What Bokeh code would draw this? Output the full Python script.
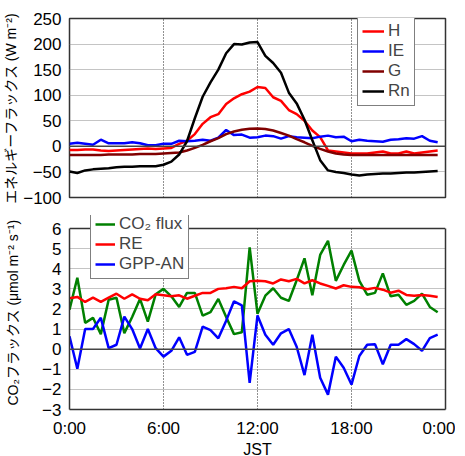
from bokeh.plotting import figure
from bokeh.layouts import column
from bokeh.models import Legend, LegendItem, Span, FixedTicker, LinearAxis, BoxAnnotation
from bokeh.embed import file_html
from bokeh.resources import INLINE

# time of day (hours, JST), half-hourly
hours = [0.0, 0.5, 1.0, 1.5, 2.0, 2.5, 3.0, 3.5, 4.0, 4.5, 5.0, 5.5,
         6.0, 6.5, 7.0, 7.5, 8.0, 8.5, 9.0, 9.5, 10.0, 10.5, 11.0, 11.5,
         12.0, 12.5, 13.0, 13.5, 14.0, 14.5, 15.0, 15.5, 16.0, 16.5, 17.0, 17.5,
         18.0, 18.5, 19.0, 19.5, 20.0, 20.5, 21.0, 21.5, 22.0, 22.5, 23.0, 23.5]

# energy fluxes (W m-2)
H = [-7, -7, -6, -6, -8, -9, -8, -7, -6, -5, -4, -5,
     -4, -3, 5, 11, 24, 44, 57, 63, 83, 94, 102, 107,
     116, 114, 96, 89, 71, 63, 50, 31, 18, -8, -10, -12,
     -14, -14, -14, -12, -10, -14, -14, -10, -14, -12, -10, -8]
IE = [5, 7, 5, 3, 13, 6, 6, 6, 8, 6, 2, 2,
      5, 5, 11, 10, 11, 13, 11, 17, 32, 22, 23, 17,
      18, 21, 20, 15, 20, 18, 17, 16, 19, 21, 18, 19,
      10, 13, 11, 10, 9, 13, 14, 16, 15, 20, 11, 8]
G = [-17, -17, -17, -17, -17, -16, -16, -16, -16, -15, -15, -15,
     -14, -13, -12, -8, -3, 3, 10, 16, 24, 29, 32.5, 34.5,
     35, 34, 31, 26, 21, 14, 8, 1, -5, -10, -14, -16,
     -17, -17, -17, -17, -17, -17, -17, -17, -17, -17, -17, -17]
Rn = [-49, -52, -47, -45, -44, -43, -41, -40, -40, -39, -39, -39,
      -36, -30, -16, 10, 55, 97, 125, 150, 182, 200, 199, 203,
      204, 177, 163, 144, 105, 84, 52, 12, -27, -47, -50, -52,
      -55, -57, -55, -54, -53, -53, -52, -51, -51, -50, -49, -48]

# CO2 fluxes (umol m-2 s-1)
CO2 = [1.96, 3.55, 1.31, 1.56, 0.75, 2.46, 2.56, 0.80, 1.60, 2.50, 1.37, 2.73,
       3.00, 2.63, 2.10, 2.80, 2.80, 1.67, 1.84, 2.50, 1.60, 0.75, 0.84, 5.06,
       1.76, 2.66, 3.03, 2.56, 2.40, 3.43, 4.52, 2.68, 4.69, 5.39, 3.40, 4.19,
       4.90, 3.40, 2.71, 2.80, 3.77, 2.63, 2.71, 2.21, 2.40, 2.76, 2.10, 1.84]
RE = [2.53, 2.60, 2.35, 2.56, 2.35, 2.56, 2.76, 2.51, 2.73, 2.51, 2.43, 2.73,
      2.68, 2.63, 2.68, 2.51, 2.66, 2.80, 2.80, 3.00, 3.03, 3.10, 3.03, 3.38,
      3.40, 3.38, 3.27, 3.47, 3.38, 3.50, 3.27, 3.43, 3.27, 3.15, 3.02, 3.18,
      3.10, 3.08, 2.98, 3.05, 2.96, 2.81, 2.91, 2.70, 2.66, 2.70, 2.66, 2.60]
GPP = [0.64, -0.97, 1.00, 1.00, 1.56, 0.05, 0.22, 1.62, 1.00, 0.03, 1.00, 0.05,
       -0.37, -0.08, 0.59, -0.28, -0.13, 1.12, 0.95, 0.54, 1.42, 2.38, 2.18, -1.68,
       1.68, 0.72, 0.22, 0.79, 1.00, 0.12, -1.29, 0.72, -1.42, -2.26, -0.37, -0.92,
       -1.76, -0.34, 0.22, 0.25, -0.75, 0.22, 0.22, 0.50, 0.25, -0.08, 0.55, 0.72]

x_ticks = [0, 6, 12, 18, 24]
x_tick_labels = ["0:00", "6:00", "12:00", "18:00", "0:00"]
y1_ticks = [-100, -50, 0, 50, 100, 150, 200, 250]
y2_ticks = [-3, -2, -1, 0, 1, 2, 3, 4, 5, 6]

LATIN = "Liberation Sans"
LABEL_FONT = "'Liberation Sans', 'Noto Sans CJK JP'"
FRAME = "#333333"


def style(p, yticks):
    p.background_fill_color = "white"
    p.border_fill_color = "white"
    for ax in p.xaxis + p.yaxis:
        ax.axis_line_color = None
        ax.major_tick_line_color = None
        ax.minor_tick_line_color = None
        ax.major_tick_in = 0
        ax.major_tick_out = 0
        ax.major_label_text_font = LATIN
        ax.major_label_text_font_size = "17px"
        ax.major_label_text_color = "black"
        ax.axis_label_text_font = LABEL_FONT
        ax.axis_label_text_font_style = "normal"
        ax.axis_label_text_color = "black"
    p.xaxis.ticker = FixedTicker(ticks=x_ticks)
    p.xaxis.major_label_overrides = {t: l for t, l in zip(x_ticks, x_tick_labels)}
    p.yaxis.ticker = FixedTicker(ticks=yticks)
    p.yaxis.major_label_standoff = 8
    p.xgrid.ticker = FixedTicker(ticks=x_ticks)
    p.ygrid.ticker = FixedTicker(ticks=yticks)
    p.xgrid.grid_line_color = "#222222"
    p.xgrid.grid_line_dash = "1 2"
    p.xgrid.grid_line_width = 1
    p.ygrid.grid_line_color = "#888888"
    p.ygrid.grid_line_dash = "1 1"
    p.ygrid.grid_line_width = 1.2
    p.add_layout(Span(location=0, dimension="width", line_color="#444444", line_width=1.5))


def style_legend(lg, gw, pad):
    lg.label_text_font = LATIN
    lg.label_text_font_size = "17px"
    lg.label_height = 14
    lg.glyph_height = 14
    lg.glyph_width = gw
    lg.label_standoff = 4
    lg.spacing = -5
    lg.padding = pad
    lg.margin = 0
    lg.border_line_color = "black"
    lg.border_line_width = 1
    lg.background_fill_alpha = 1


# ---------------- top panel: energy fluxes ----------------
p1 = figure(frame_width=376, frame_height=179, x_range=(0, 24), y_range=(-100, 250),
            output_backend="svg", toolbar_location=None,
            min_border_left=69, min_border_right=10, min_border_top=18, min_border_bottom=18)
style(p1, y1_ticks)
p1.outline_line_color = FRAME
p1.outline_line_width = 1.5
p1.xaxis.visible = False
p1.yaxis.axis_label = "エネルギーフラックス (W m⁻²)"
p1.yaxis.axis_label_text_font_size = "14px"
p1.yaxis.axis_label_standoff = 1

rH = p1.line(hours, H, line_color="#FF0000", line_width=2.5)
rIE = p1.line(hours, IE, line_color="#0000FF", line_width=2.5)
rG = p1.line(hours, G, line_color="#800000", line_width=2.5)
rRn = p1.line(hours, Rn, line_color="black", line_width=2.5)

leg1 = Legend(items=[LegendItem(label="H", renderers=[rH]),
                     LegendItem(label="IE", renderers=[rIE]),
                     LegendItem(label="G", renderers=[rG]),
                     LegendItem(label="Rn", renderers=[rRn])],
              location=(288, 91))
style_legend(leg1, 22, 4)
p1.add_layout(leg1)

# ---------------- bottom panel: CO2 fluxes ----------------
# frame extends a little above y=6 so that the legend can overhang the box
Y2_MIN, Y2_MAX = -3, 6
p2 = figure(frame_width=376, frame_height=194, x_range=(0, 24), y_range=(Y2_MIN, 6.65),
            output_backend="svg", toolbar_location=None,
            min_border_left=69, min_border_right=10, min_border_top=0, min_border_bottom=0)
style(p2, y2_ticks)
p2.outline_line_color = None
p2.xaxis.axis_line_color = FRAME
p2.xaxis.axis_line_width = 1.5
p2.yaxis.axis_line_color = FRAME
p2.yaxis.axis_line_width = 1.5
p2.yaxis.bounds = (Y2_MIN, Y2_MAX)
p2.xaxis.axis_label = "JST"
p2.xaxis.axis_label_text_font = LATIN
p2.xaxis.axis_label_text_font_size = "16px"
p2.xaxis.axis_label_standoff = 0
p2.xaxis.major_label_standoff = 9
p2.yaxis.axis_label = "CO₂フラックス (μmol m⁻² s⁻¹)"
p2.yaxis.axis_label_text_font_size = "14px"
p2.yaxis.axis_label_standoff = 18

right_ax = LinearAxis(bounds=(Y2_MIN, Y2_MAX), ticker=FixedTicker(ticks=[]),
                      axis_line_color=FRAME, axis_line_width=1.5,
                      major_tick_line_color=None, minor_tick_line_color=None,
                      major_label_text_font_size="0px")
p2.add_layout(right_ax, "right")

p2.add_layout(BoxAnnotation(bottom=Y2_MAX, fill_color="white", fill_alpha=1, line_color=None))
p2.add_layout(Span(location=Y2_MAX, dimension="width", line_color=FRAME, line_width=1.5))

rCO2 = p2.line(hours, CO2, line_color="#008000", line_width=2.5)
rRE = p2.line(hours, RE, line_color="#FF0000", line_width=2.5)
rGPP = p2.line(hours, GPP, line_color="#0000FF", line_width=2.5)

leg2 = Legend(items=[LegendItem(label="CO₂ flux", renderers=[rCO2]),
                     LegendItem(label="RE", renderers=[rRE]),
                     LegendItem(label="GPP-AN", renderers=[rGPP])],
              location=(21, 130))
style_legend(leg2, 20, 8)
leg2.padding = 4
p2.add_layout(leg2)

layout = column(p1, p2, spacing=0)
open("out.html", "w").write(file_html(layout, INLINE))
